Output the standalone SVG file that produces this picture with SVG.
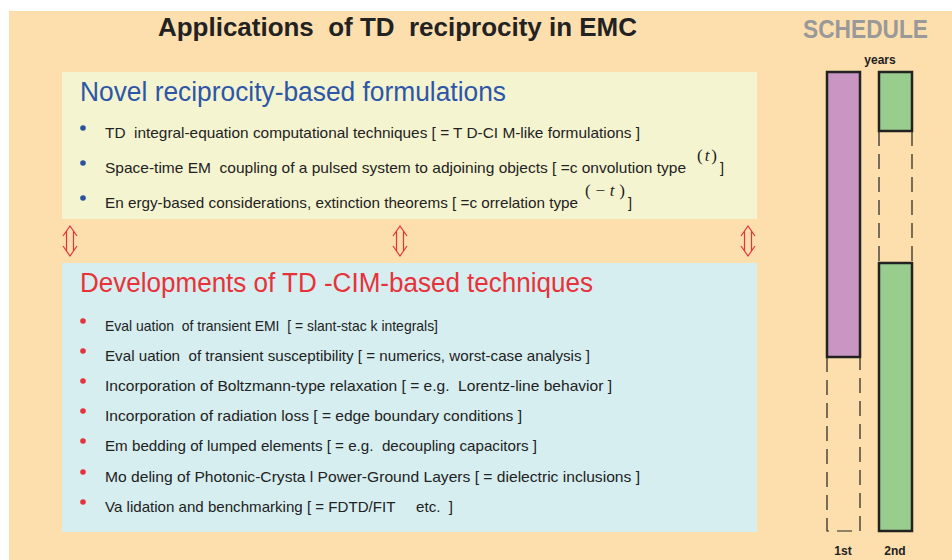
<svg xmlns="http://www.w3.org/2000/svg" width="952" height="560" viewBox="0 0 952 560">
<style>
  text { font-family: "Liberation Sans", "DejaVu Sans", sans-serif; white-space: pre; }
  .title { font-size: 26px; font-weight: bold; fill: #222; }
  .sched { font-size: 26px; font-weight: bold; fill: #999; }
  .small { font-size: 12px; font-weight: bold; fill: #222; }
  .h1 { font-size: 27px; fill: #2D56A8; }
  .h2 { font-size: 27px; fill: #E8323A; }
  .item { font-size: 14.5px; fill: #222; }
  .math { font-family: "Liberation Serif", serif; font-size: 17px; fill: #222; }
  .bb { fill: #2A52A0; }
  .rb { fill: #E8323A; }
  .bar { stroke: #222; stroke-width: 2.5; }
  .dash { fill: none; stroke: #222; stroke-width: 1.2; stroke-dasharray: 15 8; }
  .arr { fill: none; stroke: #E8323A; stroke-width: 1.2; stroke-linejoin: miter; }
</style>
<rect x="0" y="0" width="952" height="560" fill="#FFFFFF"/>
<rect x="9" y="11" width="943" height="549" fill="#FDDFAD"/>

<g id="title">
  <text class="title" x="158" y="36" textLength="479" lengthAdjust="spacingAndGlyphs">Applications  of TD  reciprocity in EMC</text>
</g>

<g id="schedule-title">
  <text class="sched" x="803" y="38" textLength="125" lengthAdjust="spacingAndGlyphs">SCHEDULE</text>
</g>

<g id="formulations">
  <rect x="62" y="72" width="695" height="147" fill="#F5F4D0"/>
  <text class="h1" x="80" y="101" textLength="426" lengthAdjust="spacingAndGlyphs">Novel reciprocity-based formulations</text>
  <circle class="bb" cx="83" cy="128" r="2.8"/>
  <text class="item" x="105" y="138" textLength="535" lengthAdjust="spacingAndGlyphs">TD  integral-equation computational techniques [ = T D-CI M-like formulations ]</text>
  <circle class="bb" cx="83" cy="163" r="2.8"/>
  <text class="item" x="105" y="173" textLength="581" lengthAdjust="spacingAndGlyphs">Space-time EM  coupling of a pulsed system to adjoining objects [ =c onvolution type</text>
  <text class="math" x="697" y="161" textLength="20" lengthAdjust="spacing">(<tspan font-style="italic">t</tspan>)</text>
  <text class="item" x="720" y="173">]</text>
  <circle class="bb" cx="83" cy="198" r="2.8"/>
  <text class="item" x="105" y="208" textLength="473" lengthAdjust="spacingAndGlyphs">En ergy-based considerations, extinction theorems [ =c orrelation type</text>
  <text class="math" x="585" y="196" textLength="40" lengthAdjust="spacing">(−<tspan font-style="italic">t</tspan>)</text>
  <text class="item" x="628" y="208">]</text>
</g>

<g id="connectors">
  <path class="arr" d="M63,236 L70,226 L77,236 M66.5,231 V251 M73.5,231 V251 M63,246 L70,256 L77,246"/>
  <path class="arr" d="M393,236 L400,226 L407,236 M396.5,231 V251 M403.5,231 V251 M393,246 L400,256 L407,246"/>
  <path class="arr" d="M741,236 L748,226 L755,236 M744.5,231 V251 M751.5,231 V251 M741,246 L748,256 L755,246"/>
</g>

<g id="developments">
  <rect x="62" y="263" width="695" height="269" fill="#D6EEF0"/>
  <text class="h2" x="80" y="292" textLength="513" lengthAdjust="spacingAndGlyphs">Developments of TD -CIM-based techniques</text>
  <circle class="rb" cx="83" cy="321" r="2.8"/>
  <text class="item" x="105" y="331" textLength="333" lengthAdjust="spacingAndGlyphs">Eval uation  of transient EMI  [ = slant-stac k integrals]</text>
  <circle class="rb" cx="83" cy="351" r="2.8"/>
  <text class="item" x="105" y="361" textLength="485" lengthAdjust="spacingAndGlyphs">Eval uation  of transient susceptibility [ = numerics, worst-case analysis ]</text>
  <circle class="rb" cx="83" cy="381" r="2.8"/>
  <text class="item" x="105" y="391" textLength="507" lengthAdjust="spacingAndGlyphs">Incorporation of Boltzmann-type relaxation [ = e.g.  Lorentz-line behavior ]</text>
  <circle class="rb" cx="83" cy="411" r="2.8"/>
  <text class="item" x="105" y="421" textLength="417" lengthAdjust="spacingAndGlyphs">Incorporation of radiation loss [ = edge boundary conditions ]</text>
  <circle class="rb" cx="83" cy="441" r="2.8"/>
  <text class="item" x="105" y="451" textLength="432" lengthAdjust="spacingAndGlyphs">Em bedding of lumped elements [ = e.g.  decoupling capacitors ]</text>
  <circle class="rb" cx="83" cy="472" r="2.8"/>
  <text class="item" x="105" y="482" textLength="535" lengthAdjust="spacingAndGlyphs">Mo deling of Photonic-Crysta l Power-Ground Layers [ = dielectric inclusions ]</text>
  <circle class="rb" cx="83" cy="502" r="2.8"/>
  <text class="item" x="105" y="512" textLength="348" lengthAdjust="spacingAndGlyphs">Va lidation and benchmarking [ = FDTD/FIT     etc.  ]</text>
</g>

<g id="schedule">
  <text class="small" x="880" y="64" text-anchor="middle">years</text>
  <g id="year1">
    <rect class="bar" x="827" y="72" width="33" height="285" fill="#C996C3"/>
    <path class="dash" d="M827,357 V531 H860 V357"/>
    <text class="small" x="843" y="555" text-anchor="middle">1st</text>
  </g>
  <g id="year2">
    <rect class="bar" x="879" y="72" width="33" height="59" fill="#98CD8E"/>
    <path class="dash" d="M879,131 V263 M912,131 V263"/>
    <rect class="bar" x="879" y="263" width="33" height="268" fill="#98CD8E"/>
    <text class="small" x="895" y="555" text-anchor="middle">2nd</text>
  </g>
</g>
</svg>
